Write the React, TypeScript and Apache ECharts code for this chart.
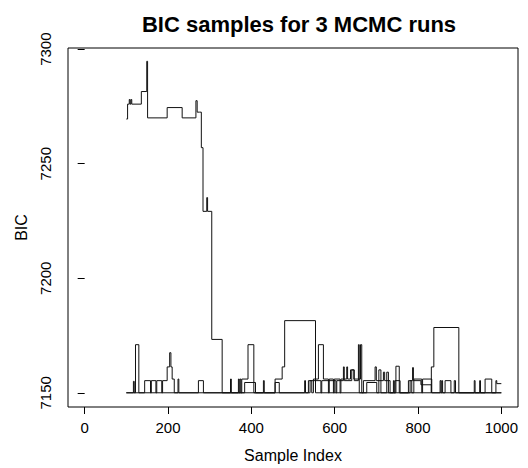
import React, { useEffect, useRef } from "react";
import * as echarts from "echarts";

const runA_x = [100,103,107,109,111,113,136,149,151,198,234,265,267,270,276,280,284,293,295,305,330,457,474,480,554,832,838,898,1000];
const runA_y = [7269.5,7276,7278,7276,7278,7276,7281.5,7294.7,7270,7274.5,7270,7270,7277.5,7272.5,7272.5,7257,7229.2,7235.2,7229.2,7173.3,7150,7156,7161.3,7181.5,7150,7161.3,7178.5,7150,7150];

const runB_x = [100,122,130,144,158,160,171,173,185,187,198,204,207,210,215,224,226,273,285,350,352,369,371,373,375,377,392,406,429,431,537,545,549,561,573,585,587,597,599,613,615,629,631,638,646,662,665,677,701,706,711,725,729,741,743,747,755,777,785,790,809,811,833,857,859,865,879,887,890,948,950,961,977,987,989,1000];
const runB_y = [7150,7171,7150,7155.3,7150,7155.3,7150,7155.3,7150,7155.3,7161.3,7167.5,7161.3,7156,7150,7156,7150,7155.3,7150,7156,7150,7156,7150,7156,7150,7156,7171,7150,7155.3,7150,7155.3,7150,7156,7171,7156,7150,7156,7150,7156,7150,7156,7161.3,7156,7160,7156,7171,7150,7154.5,7150,7160,7150,7159,7150,7155.3,7150,7161.6,7150,7155.3,7150,7156,7150,7156,7150,7155.3,7150,7155.3,7150,7155.3,7150,7155.3,7150,7156,7150,7155.3,7154,7154];

const runC_x = [100,117,119,384,410,457,467,528,530,541,567,569,603,605,621,623,641,647,657,659,669,697,700,717,720,733,745,757,781,787,789,807,832,853,855,935,937,1000];
const runC_y = [7150,7155,7150,7154.5,7150,7154.5,7150,7155.3,7150,7155.3,7150,7155.3,7150,7155.3,7161.3,7155.3,7160,7155.3,7171,7150,7155.3,7161.3,7155.3,7159,7155.3,7150,7155.3,7150,7155.3,7161,7155.3,7153.5,7150,7155.3,7150,7155.3,7150,7150];

const xTicks = [0, 200, 400, 600, 800, 1000];
const yTicks = [7150, 7200, 7250, 7300];

const FONT = "Liberation Sans, Arial, Helvetica, sans-serif";

function pairs(xs: number[], ys: number[]) {
  return xs.map((x, i) => [x, ys[i]]);
}

export default function App() {
  const ref = useRef<HTMLDivElement>(null);
  useEffect(() => {
    if (!ref.current) return;
    const chart = echarts.init(ref.current, undefined, { renderer: "svg" });
    const mk = (name: string, xs: number[], ys: number[]) => ({
      name,
      type: "line",
      step: "end",
      showSymbol: false,
      symbol: "none",
      data: pairs(xs, ys),
      lineStyle: { color: "#111", width: 1 },
      itemStyle: { color: "#111" },
      silent: true,
    });
    chart.setOption({
      animation: false,
      backgroundColor: "#fff",
      title: {
        text: "BIC samples for 3 MCMC runs",
        left: 294,
        textAlign: "center",
        top: 8,
        textStyle: { fontFamily: FONT, fontSize: 22, fontWeight: "bold", color: "#000" },
      },
      grid: {
        left: 68,
        right: 10,
        top: 48,
        bottom: 57,
        show: true,
        borderColor: "#000",
        borderWidth: 1,
        backgroundColor: "transparent",
      },
      xAxis: {
        type: "value",
        min: -40,
        max: 1040,
        name: "Sample Index",
        nameLocation: "middle",
        nameGap: 40,
        nameTextStyle: { fontFamily: FONT, fontSize: 16, color: "#000" },
        axisLine: { show: false },
        axisTick: { show: true, length: 7, customValues: xTicks, lineStyle: { color: "#000" } },
        axisLabel: {
          customValues: xTicks,
          margin: 13,
          fontFamily: FONT,
          fontSize: 15,
          color: "#000",
          formatter: (v: number) => String(v),
        },
        splitLine: { show: false },
      },
      yAxis: {
        type: "value",
        min: 7143.8,
        max: 7300.5,
        name: "BIC",
        nameLocation: "middle",
        nameGap: 39,
        nameRotate: 90,
        nameTextStyle: { fontFamily: FONT, fontSize: 16, color: "#000" },
        axisLine: { show: false },
        axisTick: { show: true, length: 7, customValues: yTicks, lineStyle: { color: "#000" } },
        axisLabel: {
          customValues: yTicks,
          rotate: 90,
          align: "center",
          verticalAlign: "bottom",
          margin: 15,
          fontFamily: FONT,
          fontSize: 15,
          color: "#000",
          formatter: (v: number) => String(v),
        },
        splitLine: { show: false },
      },
      series: [mk("run1", runA_x, runA_y), mk("run2", runB_x, runB_y), mk("run3", runC_x, runC_y)],
    });
    return () => chart.dispose();
  }, []);
  return (
    <div
      ref={ref}
      style={{ position: "fixed", left: 0, top: 0, width: 528, height: 468, background: "#fff" }}
    />
  );
}
